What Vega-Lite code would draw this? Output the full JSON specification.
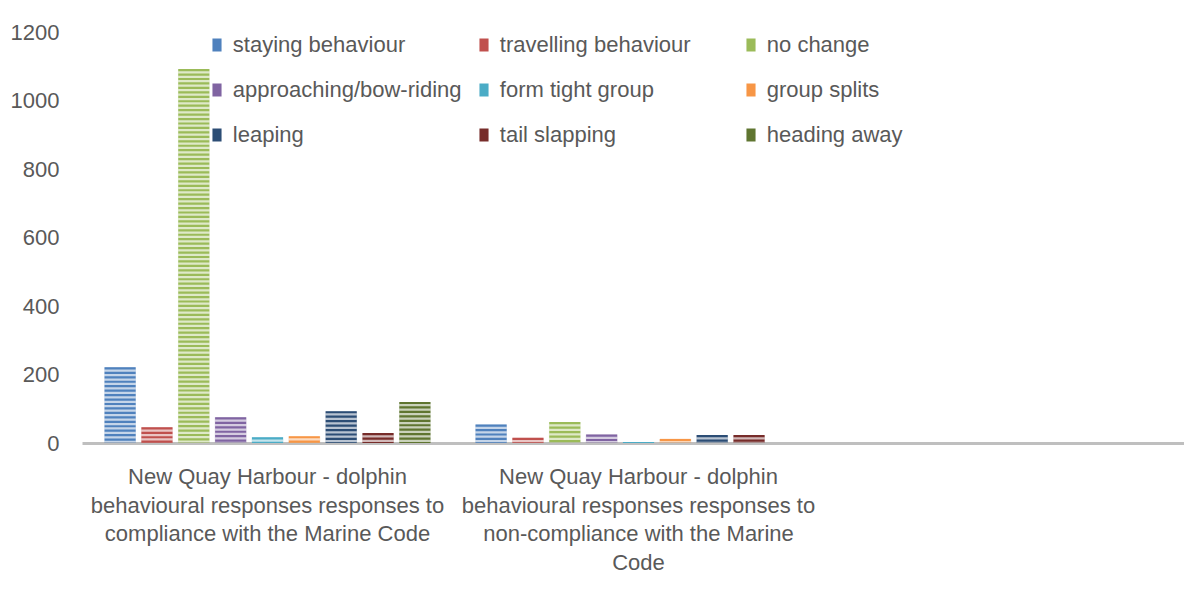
{
  "$schema": "https://vega.github.io/schema/vega-lite/v6.json",
  "width": 1113,
  "height": 411,
  "autosize": {"type": "none"},
  "padding": {"left": 82, "top": 32, "right": -11, "bottom": 167},
  "background": "white",
  "config": {
    "font": "Liberation Sans",
    "view": {"stroke": null},
    "axis": {"labelColor": "#595959", "labelFontSize": 22, "labelFont": "Liberation Sans"},
    "legend": {"labelColor": "#595959", "labelFontSize": 22, "labelFont": "Liberation Sans"}
  },
  "data": {
    "values": [
      {"context": "compliance", "behaviour": "staying behaviour", "count": 221},
      {"context": "compliance", "behaviour": "travelling behaviour", "count": 46},
      {"context": "compliance", "behaviour": "no change", "count": 1092},
      {"context": "compliance", "behaviour": "approaching/bow-riding", "count": 75},
      {"context": "compliance", "behaviour": "form tight group", "count": 17},
      {"context": "compliance", "behaviour": "group splits", "count": 20},
      {"context": "compliance", "behaviour": "leaping", "count": 93},
      {"context": "compliance", "behaviour": "tail slapping", "count": 29},
      {"context": "compliance", "behaviour": "heading away", "count": 120},
      {"context": "non-compliance", "behaviour": "staying behaviour", "count": 54},
      {"context": "non-compliance", "behaviour": "travelling behaviour", "count": 15},
      {"context": "non-compliance", "behaviour": "no change", "count": 61},
      {"context": "non-compliance", "behaviour": "approaching/bow-riding", "count": 25},
      {"context": "non-compliance", "behaviour": "form tight group", "count": 3},
      {"context": "non-compliance", "behaviour": "group splits", "count": 12},
      {"context": "non-compliance", "behaviour": "leaping", "count": 23},
      {"context": "non-compliance", "behaviour": "tail slapping", "count": 23},
      {"context": "non-compliance", "behaviour": "heading away", "count": 0}
    ]
  },
  "encoding": {
    "x": {
      "field": "context",
      "type": "nominal",
      "scale": {"domain": ["compliance", "non-compliance", "blank"], "paddingInner": 0.12, "paddingOuter": 0.06},
      "axis": {
        "title": null,
        "ticks": false,
        "domainColor": "#bfbfbf",
        "domainWidth": 3,
        "labelAngle": 0,
        "labelLimit": 0,
        "labelPadding": 23.5,
        "labelLineHeight": 28.7,
        "labelExpr": "datum.value == 'compliance' ? ['New Quay Harbour - dolphin', 'behavioural responses responses to', 'compliance with the Marine Code'] : datum.value == 'non-compliance' ? ['New Quay Harbour - dolphin', 'behavioural responses responses to', 'non-compliance with the Marine', 'Code'] : ''"
      }
    },
    "xOffset": {
      "field": "behaviour",
      "type": "nominal",
      "sort": ["staying behaviour", "travelling behaviour", "no change", "approaching/bow-riding", "form tight group", "group splits", "leaping", "tail slapping", "heading away"],
      "scale": {"paddingInner": 0.14, "paddingOuter": 0}
    },
    "color": {
      "field": "behaviour",
      "type": "nominal",
      "sort": ["staying behaviour", "travelling behaviour", "no change", "approaching/bow-riding", "form tight group", "group splits", "leaping", "tail slapping", "heading away"],
      "scale": {
        "domain": ["staying behaviour", "travelling behaviour", "no change", "approaching/bow-riding", "form tight group", "group splits", "leaping", "tail slapping", "heading away"],
        "range": ["#4F81BD", "#C0504D", "#9BBB59", "#8064A2", "#4BACC6", "#F79646", "#2C4D75", "#772C2A", "#5F7530"]
      },
      "legend": {
        "title": null,
        "orient": "none",
        "direction": "horizontal",
        "legendX": 124,
        "legendY": 2,
        "columns": 3,
        "gridAlign": "all",
        "columnPadding": 11,
        "rowPadding": 23,
        "padding": 0,
        "labelOffset": 4.8,
        "symbolType": "M-0.7,-1H0.7V1H-0.7Z",
        "symbolSize": 169,
        "symbolStrokeWidth": 0,
        "symbolOpacity": 1,
        "labelLimit": 0,
        "encode": {"symbols": {"update": {"fillOpacity": {"value": 1}, "opacity": {"value": 1}, "strokeWidth": {"value": 0}}}}
      }
    }
  },
  "layer": [
    {
      "mark": {"type": "bar", "fillOpacity": 0.33},
      "encoding": {
        "y": {
          "field": "count",
          "type": "quantitative",
          "scale": {"domain": [0, 1200]},
          "axis": {
            "title": null,
            "values": [0, 200, 400, 600, 800, 1000, 1200],
            "format": "d",
            "grid": false,
            "domain": false,
            "ticks": false,
            "labelPadding": 23
          }
        }
      }
    },
    {
      "mark": {"type": "rule", "strokeWidth": 31, "strokeDash": [2.2, 2.25], "strokeCap": "butt"},
      "encoding": {
        "y": {"field": "count", "type": "quantitative"},
        "y2": {"datum": 0}
      }
    }
  ]
}
